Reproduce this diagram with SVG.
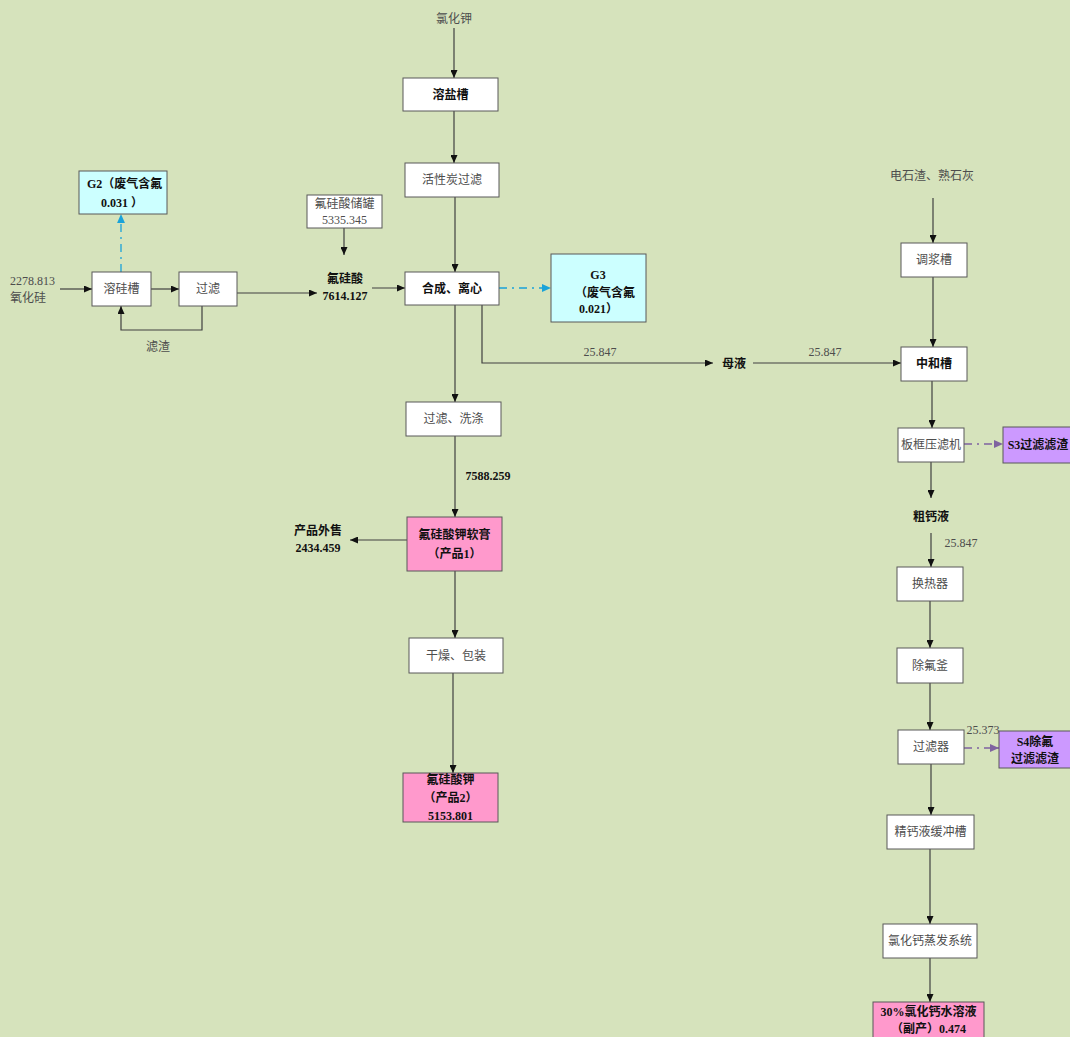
<svg xmlns="http://www.w3.org/2000/svg" width="1070" height="1037" viewBox="0 0 1070 1037">
<defs>
<style>
.bg{fill:#d6e3bc}
.box{fill:#fff;stroke:#595959;stroke-width:1}
.pink{fill:#ff99cc;stroke:#595959;stroke-width:1}
.cyan{fill:#ccffff;stroke:#595959;stroke-width:1}
.violet{fill:#cc99ff;stroke:#595959;stroke-width:1}
.ln{fill:none;stroke:#404040;stroke-width:1.2}
.dc{fill:none;stroke:#1aa3d9;stroke-width:1.3;stroke-dasharray:8,5,2,5}
.dp{fill:none;stroke:#7f63a0;stroke-width:1.3;stroke-dasharray:8,5,2,5}
text{font-family:"Liberation Serif","Noto Sans CJK SC",serif;font-size:12px;fill:#4d4d4d}
.b{font-weight:bold;fill:#111}
.c{text-anchor:middle}
</style>
<marker id="ah" viewBox="0 0 8 7" refX="8" refY="3.5" markerWidth="8" markerHeight="7" orient="auto" markerUnits="userSpaceOnUse"><path d="M0,0 L8,3.5 L0,7 z" fill="#111"/></marker>
<marker id="ahc" viewBox="0 0 8 7" refX="8" refY="3.5" markerWidth="9" markerHeight="8" orient="auto" markerUnits="userSpaceOnUse"><path d="M0,0 L8,3.5 L0,7 z" fill="#1aa3d9"/></marker>
<marker id="ahp" viewBox="0 0 8 7" refX="8" refY="3.5" markerWidth="9" markerHeight="8" orient="auto" markerUnits="userSpaceOnUse"><path d="M0,0 L8,3.5 L0,7 z" fill="#7f63a0"/></marker>
</defs>
<rect class="bg" x="0" y="0" width="1070" height="1037"/>

<g id="connectors">
<path class="ln" d="M60,289 H92" marker-end="url(#ah)"/>
<path class="ln" d="M151,289 H179" marker-end="url(#ah)"/>
<path class="ln" d="M202,306 V330 H121 V306" marker-end="url(#ah)"/>
<path class="dc" d="M121,272 V214" marker-end="url(#ahc)"/>
<path class="ln" d="M237,293 H317" marker-end="url(#ah)"/>
<path class="ln" d="M344,228 V255" marker-end="url(#ah)"/>
<path class="ln" d="M372,288 H405" marker-end="url(#ah)"/>
<path class="ln" d="M454,28 V78" marker-end="url(#ah)"/>
<path class="ln" d="M454,111 V163" marker-end="url(#ah)"/>
<path class="ln" d="M455,197 V272" marker-end="url(#ah)"/>
<path class="dc" d="M499,288 H551" marker-end="url(#ahc)"/>
<path class="ln" d="M482,305 V363 H713" marker-end="url(#ah)"/>
<path class="ln" d="M753,363 H901" marker-end="url(#ah)"/>
<path class="ln" d="M455,305 V402" marker-end="url(#ah)"/>
<path class="ln" d="M455,436 V517" marker-end="url(#ah)"/>
<path class="ln" d="M407,540 H350" marker-end="url(#ah)"/>
<path class="ln" d="M455,571 V638" marker-end="url(#ah)"/>
<path class="ln" d="M453,673 V773" marker-end="url(#ah)"/>
<path class="ln" d="M933,198 V243" marker-end="url(#ah)"/>
<path class="ln" d="M933,277 V347" marker-end="url(#ah)"/>
<path class="ln" d="M932,381 V428" marker-end="url(#ah)"/>
<path class="dp" d="M964,444 H1003" marker-end="url(#ahp)"/>
<path class="ln" d="M931,462 V498" marker-end="url(#ah)"/>
<path class="ln" d="M931,533 V567" marker-end="url(#ah)"/>
<path class="ln" d="M930,601 V648" marker-end="url(#ah)"/>
<path class="ln" d="M930,683 V730" marker-end="url(#ah)"/>
<path class="dp" d="M964,748 H999" marker-end="url(#ahp)"/>
<path class="ln" d="M931,764 V815" marker-end="url(#ah)"/>
<path class="ln" d="M930,849 V924" marker-end="url(#ah)"/>
<path class="ln" d="M930,958 V1002" marker-end="url(#ah)"/>
</g>

<g id="labels">
<text x="10" y="285">2278.813</text>
<text x="10" y="302">氧化硅</text>
<text x="158" y="351" class="c">滤渣</text>
<text x="345" y="283" class="c b">氟硅酸</text>
<text x="345" y="300" class="c b">7614.127</text>
<text x="454" y="23" class="c">氯化钾</text>
<text x="600" y="356" class="c">25.847</text>
<text x="734" y="368" class="c b">母液</text>
<text x="825" y="356" class="c">25.847</text>
<text x="488" y="480" class="c b">7588.259</text>
<text x="318" y="535" class="c b">产品外售</text>
<text x="318" y="552" class="c b">2434.459</text>
<text x="932" y="180" class="c">电石渣、熟石灰</text>
<text x="931" y="521" class="c b">粗钙液</text>
<text x="961" y="547" class="c">25.847</text>
<text x="983" y="734" class="c">25.373</text>
</g>

<g id="n-G2"><rect class="cyan" x="79" y="171" width="88" height="43"/><text x="87" y="188" class="b">G2（废气含氟</text><text x="101" y="207" class="b">0.031 ）</text></g>
<g id="n-rongguicao"><rect class="box" x="92" y="272" width="59" height="34"/><text x="121.5" y="293" class="c">溶硅槽</text></g>
<g id="n-guolv1"><rect class="box" x="179" y="272" width="58" height="34"/><text x="208" y="293" class="c">过滤</text></g>
<g id="n-chuguan"><rect class="box" x="307" y="195" width="75" height="33"/><text x="344.5" y="208" class="c">氟硅酸储罐</text><text x="344.5" y="224" class="c">5335.345</text></g>
<g id="n-rongyancao"><rect class="box" x="403" y="78" width="95" height="33"/><text x="450.5" y="99" class="c b">溶盐槽</text></g>
<g id="n-huoxingtan"><rect class="box" x="405" y="163" width="94" height="34"/><text x="452" y="184" class="c">活性炭过滤</text></g>
<g id="n-hecheng"><rect class="box" x="405" y="272" width="94" height="33"/><text x="452" y="293" class="c b">合成、离心</text></g>
<g id="n-G3"><rect class="cyan" x="551" y="254" width="95" height="68"/><text x="598" y="279" class="c b">G3</text><text x="575" y="297" class="b">（废气含氟</text><text x="579" y="313" class="b">0.021）</text></g>
<g id="n-guolvxidi"><rect class="box" x="406" y="402" width="95" height="34"/><text x="453.5" y="423" class="c">过滤、洗涤</text></g>
<g id="n-ruangao"><rect class="pink" x="407" y="517" width="95" height="54"/><text x="454.5" y="539" class="c b">氟硅酸钾软膏</text><text x="454.5" y="558" class="c b">（产品1）</text></g>
<g id="n-ganzao"><rect class="box" x="409" y="638" width="94" height="35"/><text x="456" y="660" class="c">干燥、包装</text></g>
<g id="n-chanpin2"><rect class="pink" x="403" y="773" width="95" height="49"/><text x="450.5" y="784" class="c b">氟硅酸钾</text><text x="450.5" y="802" class="c b">（产品2）</text><text x="450.5" y="820" class="c b">5153.801</text></g>
<g id="n-tiaojiang"><rect class="box" x="901" y="243" width="66" height="34"/><text x="934" y="264" class="c">调浆槽</text></g>
<g id="n-zhonghe"><rect class="box" x="901" y="347" width="66" height="34"/><text x="934" y="368" class="c b">中和槽</text></g>
<g id="n-bankuang"><rect class="box" x="898" y="428" width="66" height="34"/><text x="931" y="449" class="c">板框压滤机</text></g>
<g id="n-S3"><rect class="violet" x="1003" y="427" width="70" height="36"/><text x="1038" y="449" class="c b">S3过滤滤渣</text></g>
<g id="n-huanre"><rect class="box" x="897" y="567" width="66" height="34"/><text x="930" y="588" class="c">换热器</text></g>
<g id="n-chufu"><rect class="box" x="897" y="648" width="66" height="35"/><text x="930" y="670" class="c">除氟釜</text></g>
<g id="n-guolvqi"><rect class="box" x="898" y="730" width="66" height="34"/><text x="931" y="751" class="c">过滤器</text></g>
<g id="n-S4"><rect class="violet" x="999" y="731" width="74" height="37"/><text x="1035" y="746" class="c b">S4除氟</text><text x="1035" y="763" class="c b">过滤滤渣</text></g>
<g id="n-jinggai"><rect class="box" x="887" y="815" width="87" height="34"/><text x="930.5" y="836" class="c">精钙液缓冲槽</text></g>
<g id="n-zhengfa"><rect class="box" x="883" y="924" width="94" height="34"/><text x="930" y="945" class="c">氯化钙蒸发系统</text></g>
<g id="n-fuchan"><rect class="pink" x="873" y="1002" width="111" height="38"/><text x="928.5" y="1016" class="c b">30%氯化钙水溶液</text><text x="928.5" y="1033" class="c b">（副产）0.474</text></g>
</svg>
